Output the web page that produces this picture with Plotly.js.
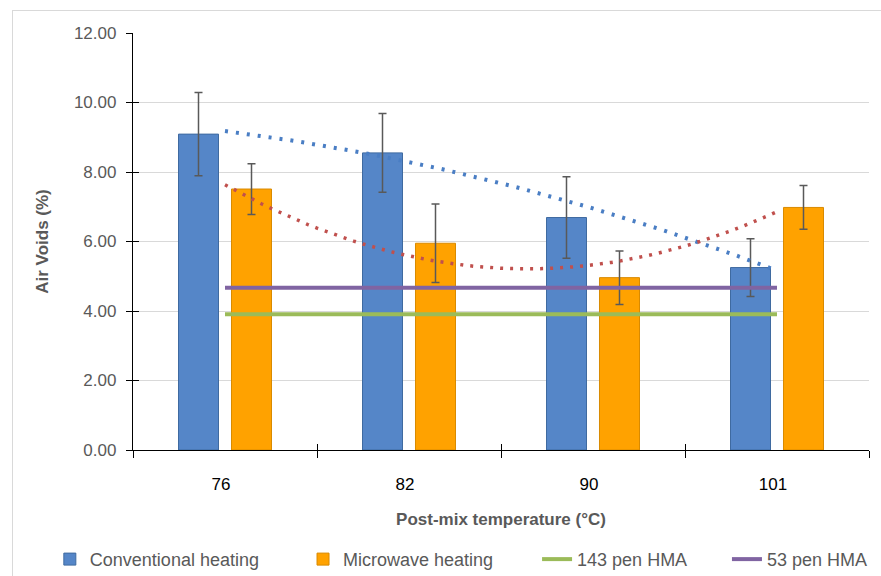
<!DOCTYPE html>
<html>
<head>
<meta charset="utf-8">
<script src="https://cdn.plot.ly/plotly-3.0.1.min.js"></script>
<style>
  html, body { margin: 0; padding: 0; background: #fff; }
  #chart { width: 881px; height: 576px; position: absolute; left: 0; top: 0; }
  #frame { position: absolute; left: 12px; top: 10px; width: 900px; height: 600px;
           border: 1px solid #d9d9d9; pointer-events: none; }
</style>
</head>
<body>
<div id="chart"></div>
<div id="frame"></div>
<script>
// ---- data ----
const categories = ["76", "82", "90", "101"];
const conventional = [9.09, 8.55, 6.69, 5.25];
const conventionalErr = [1.20, 1.13, 1.17, 0.83];
const microwave = [7.51, 5.95, 4.96, 6.98];
const microwaveErr = [0.73, 1.13, 0.77, 0.63];
const pen143 = [3.91, 3.91, 3.91, 3.91];
const pen53 = [4.67, 4.67, 4.67, 4.67];
const yTicks = [0, 2, 4, 6, 8, 10, 12];

// ---- helpers ----
const idx = categories.map((c, i) => i);
// order-2 polynomial least squares trendline (as in the source chart)
function polyTrend(ys) {
  const n = ys.length;
  const xs = ys.map((v, i) => i + 1);
  let S = [0,0,0,0,0], T = [0,0,0];
  for (let i = 0; i < n; i++) {
    const x = xs[i], y = ys[i];
    for (let k = 0; k < 5; k++) S[k] += Math.pow(x, k);
    for (let k = 0; k < 3; k++) T[k] += Math.pow(x, k) * y;
  }
  const A = [[S[0],S[1],S[2],T[0]],[S[1],S[2],S[3],T[1]],[S[2],S[3],S[4],T[2]]];
  for (let c = 0; c < 3; c++) {
    for (let r = c + 1; r < 3; r++) {
      const f = A[r][c] / A[c][c];
      for (let k = c; k < 4; k++) A[r][k] -= f * A[c][k];
    }
  }
  const coef = [0,0,0];
  for (let r = 2; r >= 0; r--) {
    let s = A[r][3];
    for (let k = r + 1; k < 3; k++) s -= A[r][k] * coef[k];
    coef[r] = s / A[r][r];
  }
  const tx = [], ty = [];
  const steps = 60;
  for (let j = 0; j <= steps; j++) {
    const x = 1 + (n - 1) * j / steps;
    tx.push(x - 1);
    ty.push(coef[0] + coef[1] * x + coef[2] * x * x);
  }
  return {x: tx, y: ty};
}
const trendConv = polyTrend(conventional);
const trendMicro = polyTrend(microwave);

const FONT = "Liberation Sans, Arial, sans-serif";
const GREY = "#595959";

const traces = [
  {
    type: "bar", x: idx, y: conventional, name: "Conventional heating",
    marker: {color: "#5586c8", line: {color: "#3f6aa0", width: 1}},
    error_y: {type: "data", array: conventionalErr, visible: true, color: "#595959", thickness: 1.5, width: 4},
    legend: "legend", hoverinfo: "y"
  },
  {
    type: "bar", x: idx, y: microwave, name: "Microwave heating",
    marker: {color: "#ffa200", line: {color: "#d98a00", width: 1}},
    error_y: {type: "data", array: microwaveErr, visible: true, color: "#595959", thickness: 1.5, width: 4},
    legend: "legend2", hoverinfo: "y"
  },
  {
    type: "scatter", mode: "lines", x: idx, y: pen143, name: "143 pen HMA",
    line: {color: "#9bbb59", width: 4}, legend: "legend3"
  },
  {
    type: "scatter", mode: "lines", x: idx, y: pen53, name: "53 pen HMA",
    line: {color: "#8064a2", width: 4}, legend: "legend4"
  },
  {
    type: "scatter", mode: "lines", x: trendConv.x, y: trendConv.y, showlegend: false,
    line: {color: "#4a7ec4", width: 4, dash: "3px,8px"}, hoverinfo: "skip"
  },
  {
    type: "scatter", mode: "lines", x: trendMicro.x, y: trendMicro.y, showlegend: false,
    line: {color: "#c0504d", width: 3.5, dash: "3px,7px"}, hoverinfo: "skip"
  },
  // dummy traces to draw the crossing tick marks
  {type: "scatter", x: [], y: [], xaxis: "x2", yaxis: "y2", showlegend: false, hoverinfo: "skip"},
  {type: "scatter", x: [], y: [], xaxis: "x3", yaxis: "y3", showlegend: false, hoverinfo: "skip"}
];

const xr = [-0.5, categories.length - 0.5];
const bounds = [];
for (let i = 0; i <= categories.length; i++) bounds.push(i - 0.5);

const legendBase = {
  orientation: "h", yanchor: "top", xanchor: "left", y: -0.218,
  font: {family: FONT, size: 18, color: GREY}, bgcolor: "rgba(0,0,0,0)"
};

const layout = {
  width: 881, height: 576,
  margin: {l: 133, r: 12, t: 33, b: 126, autoexpand: false},
  paper_bgcolor: "#ffffff", plot_bgcolor: "#ffffff",
  barmode: "group", bargap: 0.424, bargroupgap: 0.245,
  font: {family: FONT, color: GREY},
  xaxis: {
    range: xr, tickmode: "array", tickvals: idx, ticktext: categories,
    ticks: "", showgrid: false, zeroline: false,
    showline: true, linecolor: "#000000", linewidth: 1.3,
    tickfont: {family: FONT, size: 17, color: "#000000"},
    ticklabelstandoff: 18, ticklabelshift: -4,
    title: {text: "Post-mix temperature (°C)", font: {family: FONT, size: 17, color: GREY, weight: "bold"}, standoff: 20}
  },
  yaxis: {
    range: [0, 12], tickmode: "array", tickvals: yTicks, ticktext: yTicks.map(v => v.toFixed(2)),
    ticks: "outside", ticklen: 6, tickcolor: "#000000", tickwidth: 1.3,
    showgrid: true, gridcolor: "#d9d9d9", gridwidth: 1, zeroline: false,
    showline: true, linecolor: "#000000", linewidth: 1.3,
    tickfont: {family: FONT, size: 17, color: GREY}, ticklabelstandoff: 6,
    title: {text: "Air Voids (%)", font: {family: FONT, size: 17, color: GREY, weight: "bold"}, standoff: 20}
  },
  xaxis2: {
    overlaying: "x", anchor: "y2", range: xr, tickmode: "array", tickvals: bounds,
    ticks: "outside", ticklen: 7, tickcolor: "#000000", tickwidth: 1.3,
    showticklabels: false, showgrid: false, zeroline: false, showline: false
  },
  yaxis2: {
    overlaying: "y", anchor: "x2", range: [0, 12], tickmode: "array", tickvals: yTicks,
    ticks: "inside", ticklen: 6, tickcolor: "#000000", tickwidth: 1.3,
    showticklabels: false, showgrid: false, zeroline: false, showline: false
  },
  xaxis3: {
    overlaying: "x", anchor: "y3", range: xr, tickmode: "array", tickvals: bounds,
    ticks: "inside", ticklen: 6, tickcolor: "#000000", tickwidth: 1.3,
    showticklabels: false, showgrid: false, zeroline: false, showline: false
  },
  yaxis3: {
    overlaying: "y", anchor: "x3", range: [0, 12],
    ticks: "", showticklabels: false, showgrid: false, zeroline: false, showline: false
  },
  legend: Object.assign({}, legendBase, {x: -0.113}),
  legend2: Object.assign({}, legendBase, {x: 0.231}),
  legend3: Object.assign({}, legendBase, {x: 0.549}),
  legend4: Object.assign({}, legendBase, {x: 0.807}),
  showlegend: true
};

Plotly.newPlot("chart", traces, layout, {displayModeBar: false, responsive: false});
</script>
</body>
</html>
